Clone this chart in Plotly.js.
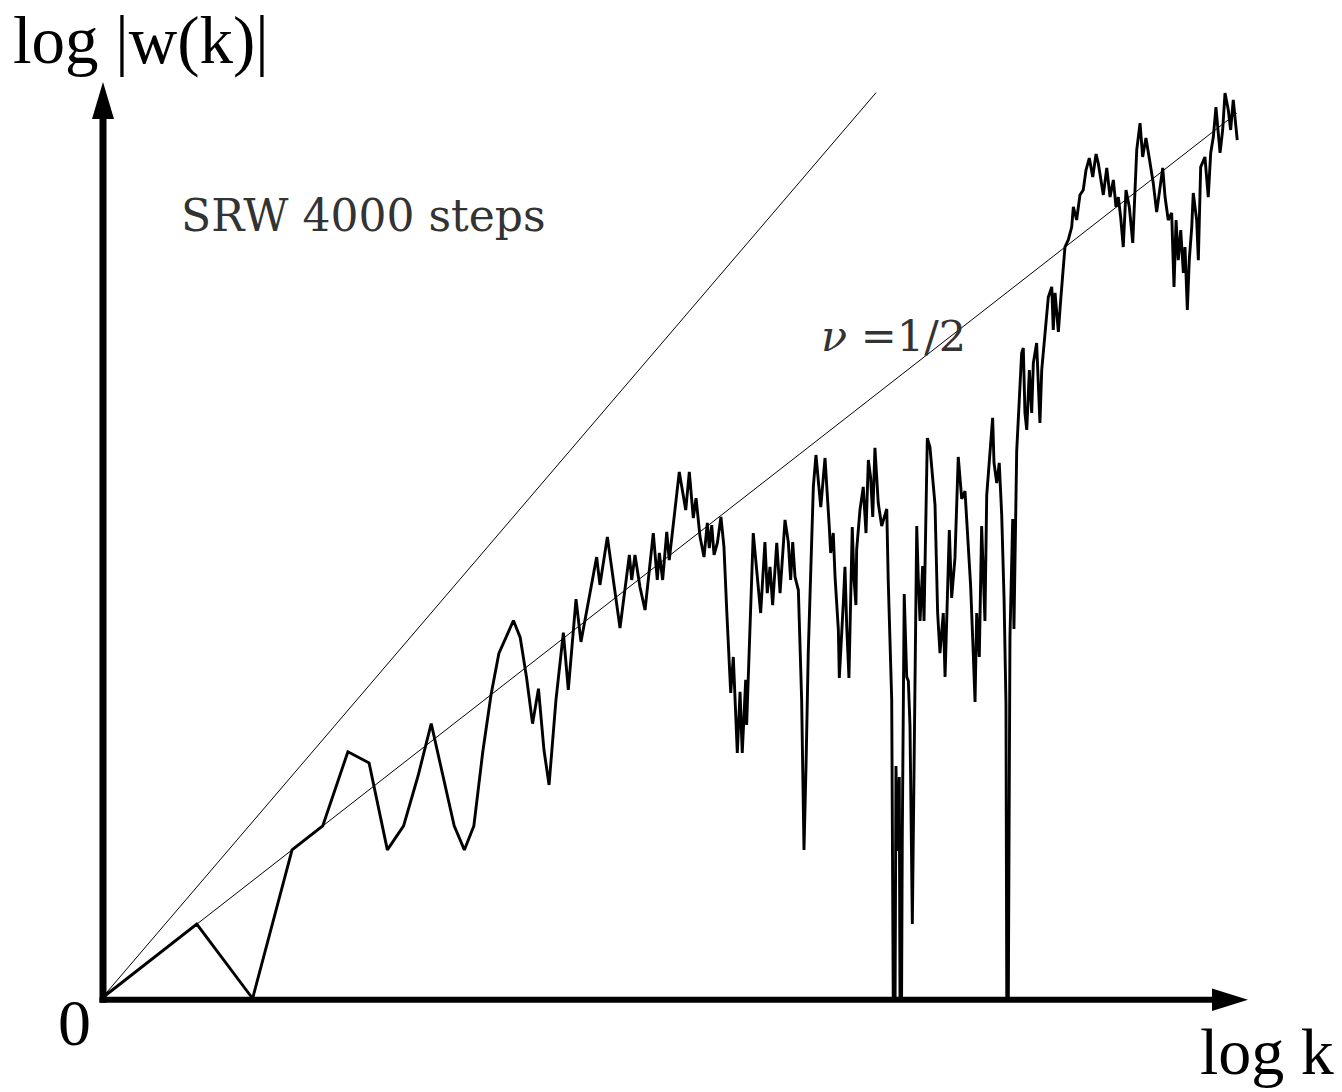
<!DOCTYPE html>
<html>
<head>
<meta charset="utf-8">
<script src="https://cdn.plot.ly/plotly-3.0.1.min.js"></script>
<style>
  html, body { margin: 0; padding: 0; background: #ffffff; }
  #chart { width: 1342px; height: 1092px; }
</style>
</head>
<body>
<div id="chart"></div>
<script>
// ---- Data: simple random walk, 4000 steps (natural logs) ----
// logK = ln k ; logW = ln |w(k)|.  A value of -1 marks a return to the origin
// (|w| = 0, log -> -infinity), which is clipped at the horizontal axis.
const logK = [
  0, 0.693, 1.099, 1.386, 1.609, 1.792, 1.946, 2.079, 2.197, 2.303,
  2.398, 2.485, 2.565, 2.639, 2.708, 2.773, 2.833, 2.890, 2.944, 2.996,
  3.045, 3.091, 3.135, 3.178, 3.218, 3.255, 3.305, 3.359, 3.395, 3.451,
  3.487, 3.601, 3.625, 3.679, 3.771, 3.839, 3.856, 3.880, 3.916, 3.953,
  4.013, 4.042, 4.057, 4.081, 4.111, 4.129, 4.202, 4.249, 4.275, 4.304,
  4.324, 4.353, 4.382, 4.406, 4.420, 4.438, 4.455, 4.479, 4.505, 4.527,
  4.547, 4.576, 4.595, 4.624, 4.644, 4.660, 4.685, 4.692, 4.740, 4.765,
  4.794, 4.825, 4.842, 4.862, 4.881, 4.911, 4.935, 4.971, 4.995, 5.012,
  5.027, 5.044, 5.068, 5.092, 5.109, 5.124, 5.133, 5.140, 5.177, 5.196,
  5.231, 5.262, 5.293, 5.303, 5.322, 5.335, 5.359, 5.366, 5.395, 5.407,
  5.420, 5.436, 5.460, 5.473, 5.487, 5.492, 5.516, 5.540, 5.560, 5.577,
  5.594, 5.609, 5.625, 5.649, 5.674, 5.711, 5.722, 5.747, 5.766, 5.778,
  5.788, 5.802, 5.812, 5.824, 5.838, 5.856, 5.868, 5.880, 5.897, 5.909,
  5.929, 5.940, 5.953, 5.972, 5.982, 6.006, 6.025, 6.062, 6.081, 6.098,
  6.122, 6.135, 6.151, 6.166, 6.183, 6.207, 6.231, 6.256, 6.280, 6.304,
  6.321, 6.340, 6.353, 6.365, 6.384, 6.401, 6.425, 6.438, 6.462, 6.481,
  6.491, 6.511, 6.529, 6.547, 6.564, 6.578, 6.588, 6.598, 6.607, 6.627,
  6.636, 6.656, 6.675, 6.692, 6.704, 6.716, 6.729, 6.748, 6.765, 6.777,
  6.801, 6.813, 6.825, 6.838, 6.849, 6.869, 6.886, 6.911, 6.922, 6.935,
  6.959, 6.976, 6.991, 7.007, 7.031, 7.056, 7.068, 7.092, 7.116, 7.140,
  7.160, 7.184, 7.209, 7.233, 7.249, 7.267, 7.286, 7.311, 7.335, 7.359,
  7.378, 7.395, 7.412, 7.431, 7.451, 7.475, 7.500, 7.529, 7.553, 7.572,
  7.596, 7.620, 7.649, 7.674, 7.698, 7.718, 7.735, 7.758, 7.783, 7.800,
  7.815, 7.831, 7.849, 7.868, 7.880, 7.897, 7.911, 7.929, 7.940, 7.965,
  7.977, 7.994, 8.025, 8.049, 8.067, 8.086, 8.105, 8.135, 8.154, 8.171,
  8.195, 8.212, 8.231, 8.251, 8.260
];
const logW = [
  0, 0.347, 0, 0.693, 0.805, 1.151, 1.099, 0.693, 0.805, 1.040,
  1.282, 1.040, 0.805, 0.693, 0.805, 1.151, 1.417, 1.609, 1.684, 1.763,
  1.684, 1.498, 1.282, 1.445, 1.159, 0.996, 1.392, 1.706, 1.439, 1.863,
  1.663, 2.059, 1.929, 2.153, 1.728, 2.069, 1.952, 2.069, 1.919, 1.812,
  2.171, 1.952, 2.078, 1.952, 2.176, 2.045, 2.456, 2.278, 2.456, 2.241,
  2.334, 2.153, 2.059, 2.218, 2.101, 2.208, 2.069, 2.125, 2.246, 2.106,
  1.812, 1.425, 1.593, 1.145, 1.430, 1.145, 1.486, 1.276, 2.171, 1.985,
  1.798, 2.129, 1.891, 2.013, 1.835, 2.125, 1.891, 2.232, 2.129, 1.952,
  2.129, 1.966, 1.905, 1.392, 0.693, 1.089, 1.406, 1.611, 2.386, 2.535,
  2.292, 2.521, 2.199, 2.078, 2.171, 1.966, 1.719, 1.495, 1.845, 2.013,
  1.733, 1.495, 2.199, 1.952, 1.835, 2.092, 2.278, 2.386, 2.171, 2.512,
  2.428, 2.246, 2.568, 2.311, 2.204, 2.283, 1.943, 1.392, -1, 1.084,
  0.688, 1.033, -1, 0.763, 1.887, 1.500, 1.481, 1.271, 0.347, 0.949,
  2.204, 1.961, 1.761, 2.017, 1.761, 2.614, 2.572, 2.302, 1.798, 1.611,
  1.798, 1.500, 1.887, 2.185, 1.868, 2.055, 2.526, 2.330, 2.367, 2.129,
  1.924, 1.611, 1.383, 1.798, 1.593, 2.204, 1.761, 2.348, 2.535, 2.708,
  2.498, 2.404, 2.498, 2.255, 1.868, 1.374, -1, 0.688, 1.686, 2.236,
  1.723, 2.554, 2.838, 3.011, 3.034, 2.731, 2.652, 2.931, 2.731, 2.964,
  3.057, 2.824, 2.684, 2.931, 3.011, 3.132, 3.272, 3.319, 3.118, 3.291,
  3.109, 3.258, 3.398, 3.505, 3.538, 3.598, 3.692, 3.631, 3.748, 3.771,
  3.864, 3.920, 3.832, 3.939, 3.897, 3.818, 3.748, 3.874, 3.738, 3.818,
  3.692, 3.738, 3.645, 3.505, 3.771, 3.692, 3.524, 3.958, 4.083, 3.925,
  4.014, 3.920, 3.804, 3.668, 3.785, 3.874, 3.738, 3.631, 3.664, 3.319,
  3.631, 3.444, 3.584, 3.384, 3.505, 3.211, 3.444, 3.598, 3.757, 3.631,
  3.444, 3.878, 3.925, 3.738, 3.944, 4.018, 4.158, 3.944, 4.051, 4.223,
  4.144, 4.051, 4.191, 4.065, 4.004
];
// Guide lines through the origin: slope nu = 3/4 (unlabelled) and nu = 1/2
const guide34X = [0, 5.633];
const guide34Y = [0, 4.225];
const guide12X = [0, 8.256];
const guide12Y = [0, 4.129];
// Text
const yLabel = 'log |w(k)|';
const xLabel = 'log k';
const originLabel = '0';
const walkLabel = 'SRW 4000 steps';
const nuLabel = '<i>ν</i> =1/2';

// ---- Layout geometry (pixels) ----
const W = 1342, H = 1092;
const ML = 100, MR = 92, MT = 80, MB = 92;
const PW = W - ML - MR, PH = H - MT - MB;
const X0 = 101.5, Y0 = 998.5;      // pixel position of data origin
const SX = 137.5, SY = 214.4;      // pixels per log unit
const xRange = [(ML - X0) / SX, (ML + PW - X0) / SX];
const yRange = [(Y0 - (MT + PH)) / SY, (Y0 - MT) / SY];
const px = p => (p - ML) / PW;           // pixel x -> paper
const py = p => (H - MB - p) / PH;       // pixel y -> paper

const traces = [
  { x: guide34X, y: guide34Y, mode: 'lines', line: { color: '#000', width: 1 }, hoverinfo: 'skip' },
  { x: guide12X, y: guide12Y, mode: 'lines', line: { color: '#000', width: 1 }, hoverinfo: 'skip' },
  { x: logK, y: logW, mode: 'lines', line: { color: '#000', width: 2.9 }, hoverinfo: 'skip' }
];

const shapes = [
  { type: 'line', xref: 'paper', yref: 'paper', x0: px(103), x1: px(103), y0: py(1002.7), y1: py(116),
    line: { color: '#000', width: 7 } },
  { type: 'path', xref: 'paper', yref: 'paper',
    path: `M ${px(103)} ${py(82)} L ${px(92)} ${py(119)} L ${px(114)} ${py(119)} Z`,
    fillcolor: '#000', line: { color: '#000', width: 0 } },
  { type: 'line', xref: 'paper', yref: 'paper', x0: px(99.5), x1: px(1215), y0: py(999.7), y1: py(999.7),
    line: { color: '#000', width: 6 } },
  { type: 'path', xref: 'paper', yref: 'paper',
    path: `M ${px(1248)} ${py(999.7)} L ${px(1212)} ${py(988.5)} L ${px(1212)} ${py(1011)} Z`,
    fillcolor: '#000', line: { color: '#000', width: 0 } }
];

const serif = 'Liberation Serif, Times New Roman, serif';
const serif2 = 'DejaVu Serif, serif';
const annotations = [
  { text: yLabel, xref: 'paper', yref: 'paper', x: px(11), y: py(40), xanchor: 'left', yanchor: 'middle',
    showarrow: false, font: { family: serif, size: 67, color: '#000' } },
  { text: originLabel, xref: 'paper', yref: 'paper', x: px(74), y: py(1023), xanchor: 'center', yanchor: 'middle',
    showarrow: false, font: { family: serif, size: 66, color: '#000' } },
  { text: xLabel, xref: 'paper', yref: 'paper', x: px(1198), y: py(1051), xanchor: 'left', yanchor: 'middle',
    showarrow: false, font: { family: serif, size: 66, color: '#000' } },
  { text: walkLabel, xref: 'paper', yref: 'paper', x: px(179), y: py(215), xanchor: 'left', yanchor: 'middle',
    showarrow: false, font: { family: serif2, size: 44, color: '#333' } },
  { text: nuLabel, xref: 'paper', yref: 'paper', x: px(819), y: py(336), xanchor: 'left', yanchor: 'middle',
    showarrow: false, font: { family: serif2, size: 43, color: '#333' } }
];

const layout = {
  width: W, height: H,
  margin: { l: ML, r: MR, t: MT, b: MB, pad: 0, autoexpand: false },
  paper_bgcolor: '#ffffff', plot_bgcolor: '#ffffff',
  showlegend: false,
  xaxis: { range: xRange, visible: false, fixedrange: true },
  yaxis: { range: yRange, visible: false, fixedrange: true },
  shapes: shapes,
  annotations: annotations
};

Plotly.newPlot('chart', traces, layout, { staticPlot: true, displayModeBar: false });
</script>
</body>
</html>
